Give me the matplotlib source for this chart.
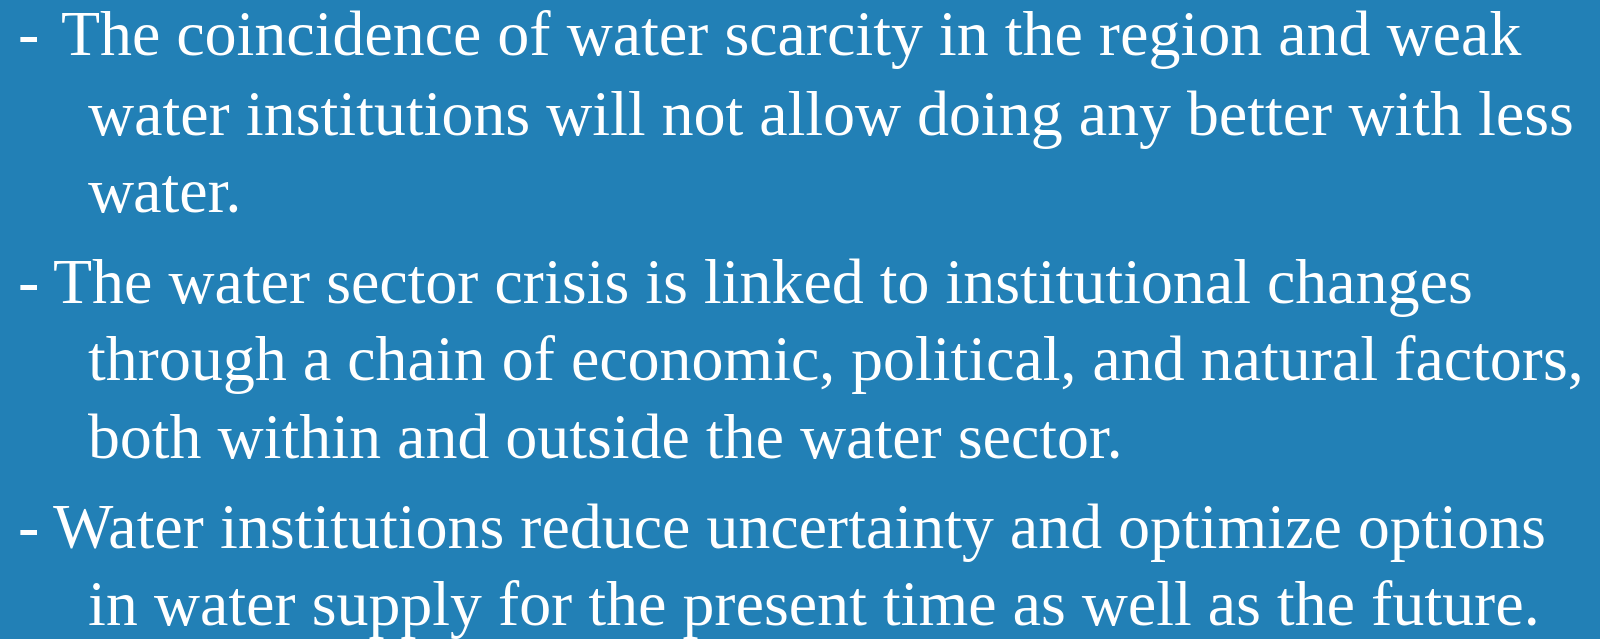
import matplotlib.pyplot as plt

# slide text: each bullet is a list of wrapped lines
bullets = [
    ["The coincidence of water scarcity in the region and weak",
     "water institutions will not allow doing any better with less",
     "water."],
    ["The water sector crisis is linked to institutional changes",
     "through a chain of economic, political, and natural factors,",
     "both within and outside the water sector."],
    ["Water institutions reduce uncertainty and optimize options",
     "in water supply for the present time as well as the future."],
]
baselines = [[55, 135, 212], [303, 380, 458], [548, 625]]
first_x = [61, 53, 53]

W, H = 1600, 639
bg = "#2280b6"

fig = plt.figure(figsize=(16, 6.39), dpi=100, facecolor=bg)

for lines, ys, fx in zip(bullets, baselines, first_x):
    fig.text(18 / W, 1 - ys[0] / H, "-", color="white", fontsize=46,
             family="Liberation Serif", va="baseline", ha="left")
    for i, (line, y) in enumerate(zip(lines, ys)):
        x = fx if i == 0 else 88
        fig.text(x / W, 1 - y / H, line, color="white", fontsize=46,
                 family="Liberation Serif", va="baseline", ha="left")

fig.savefig("out.png", dpi=100, facecolor=bg)
